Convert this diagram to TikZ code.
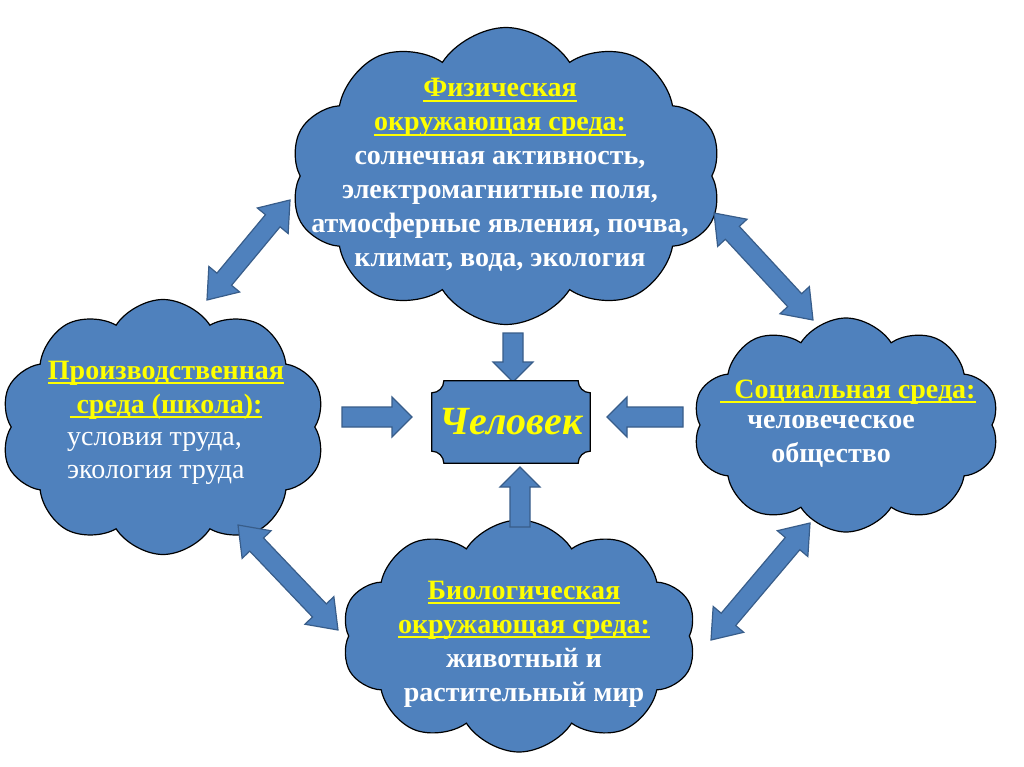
\documentclass[tikz,border=0pt]{standalone}
\usepackage{fontspec}
\setmainfont{Liberation Serif}
\usetikzlibrary{shapes.symbols,calc}
\definecolor{cblue}{HTML}{4F81BD}
\definecolor{cedge}{HTML}{385D8A}
\definecolor{cyel}{HTML}{FFFF00}
\newsavebox\myulbox
\newcommand\myul[1]{{\color{cyel}\sbox\myulbox{#1}\rlap{\rule[-5pt]{\wd\myulbox}{2pt}}\usebox\myulbox}}
\newcommand\myoneway[2]{%
  \coordinate (#1-h) at ($(#2)!20pt!(#1)$);
  \draw[blockar] ($(#1)!10pt!90:(#2)$) -- ($(#1-h)!10pt!90:(#2)$) -- ($(#1-h)!20pt!90:(#2)$) -- (#2)
    -- ($(#1-h)!20pt!-90:(#2)$) -- ($(#1-h)!10pt!-90:(#2)$) -- ($(#1)!10pt!-90:(#2)$) -- cycle;}
\newcommand\mytwoway[2]{%
  \coordinate (#1-h) at ($(#1)!27pt!(#2)$);
  \coordinate (#2-h) at ($(#2)!27pt!(#1)$);
  \draw[blockar] (#1) -- ($(#1-h)!20pt!90:(#2)$) -- ($(#1-h)!9.5pt!90:(#2)$) -- ($(#2-h)!9.5pt!-90:(#1)$)
    -- ($(#2-h)!20pt!-90:(#1)$) -- (#2) -- ($(#2-h)!20pt!90:(#1)$) -- ($(#2-h)!9.5pt!90:(#1)$)
    -- ($(#1-h)!9.5pt!-90:(#2)$) -- ($(#1-h)!20pt!-90:(#2)$) -- cycle;}
\tikzset{
  cloudbox/.style={cloud, cloud puffs=10, cloud puff arc=115, draw=black, line width=1.2pt, fill=cblue, inner sep=0pt},
  blockar/.style={fill=cblue, draw=cedge, line width=1.2pt, line join=miter},
  ctext/.style={text=white, font=\fontsize{28}{34}\selectfont\bfseries, align=center, inner sep=0pt},
  ltext/.style={text=white, font=\fontsize{28}{33}\selectfont, align=left, inner sep=0pt},
}
\begin{document}
\begin{tikzpicture}[x=1pt,y=-1pt]
\fill[white] (0,0) rectangle (1024,767);
\useasboundingbox (0,0) rectangle (1024,767);
% clouds
\node[cloudbox, minimum width=432pt, minimum height=297pt] (phys) at (506,176) {};
\node[cloudbox, minimum width=325pt, minimum height=255pt] (prod) at (163,427) {};
\node[cloudbox, minimum width=307pt, minimum height=214pt] (soc) at (846,425) {};
\node[cloudbox, minimum width=355pt, minimum height=232pt] (bio) at (519,636) {};
% arrow end points
\coordinate (dT) at (513,333); \coordinate (dH) at (513,382);
\coordinate (rT) at (342,417); \coordinate (rH) at (412,417);
\coordinate (lT) at (683,417); \coordinate (lH) at (607,417);
\coordinate (uT) at (520,527); \coordinate (uH) at (520,467);
\coordinate (tlA) at (207,300); \coordinate (tlB) at (290,200);
\coordinate (trA) at (714,213); \coordinate (trB) at (813,320);
\coordinate (blA) at (238,525); \coordinate (blB) at (338,630);
\coordinate (brA) at (810,523); \coordinate (brB) at (711,640);
\myoneway{dT}{dH}
\myoneway{rT}{rH}
\myoneway{lT}{lH}
\myoneway{uT}{uH}
\mytwoway{tlA}{tlB}
\mytwoway{trA}{trB}
\mytwoway{blA}{blB}
\mytwoway{brA}{brB}
% central plaque
\node[minimum width=158pt, minimum height=82pt, inner sep=0pt] (man) at (511,422) {};
\path[fill=cblue, draw=black, line width=1.2pt]
  ($(man.north west)+(12,0)$) -- ($(man.north east)+(-12,0)$)
  .. controls ($(man.north east)+(-12,6.6)$) and ($(man.north east)+(-6.6,12)$) .. ($(man.north east)+(0,12)$)
  -- ($(man.south east)+(0,-12)$)
  .. controls ($(man.south east)+(-6.6,-12)$) and ($(man.south east)+(-12,-6.6)$) .. ($(man.south east)+(-12,0)$)
  -- ($(man.south west)+(12,0)$)
  .. controls ($(man.south west)+(12,-6.6)$) and ($(man.south west)+(6.6,-12)$) .. ($(man.south west)+(0,-12)$)
  -- ($(man.north west)+(0,12)$)
  .. controls ($(man.north west)+(6.6,12)$) and ($(man.north west)+(12,6.6)$) .. ($(man.north west)+(12,0)$) -- cycle;
\node[text=cyel, font=\fontsize{40}{44}\selectfont\bfseries\itshape, inner sep=0pt] (mantxt) at (man.center) {Человек};
% texts
\node[ctext] (physt) at (500,175) {\myul{Физическая}\\
  \myul{окружающая среда:}\\
  солнечная активность,\\ электромагнитные поля,\\ атмосферные явления, почва,\\ климат, вода, экология};
\node[ctext] (prodt) at (166,390) {\myul{Производственная}\\
  \myul{\hspace*{7pt}среда (школа):}};
\node[ltext, anchor=west] (prodb) at (67,458) {условия труда,\\ экология труда};
\node[ctext] (soct) at (848,392) {\myul{\hspace*{14pt}Социальная среда:}};
\node[ctext] (socb) at (831,441) {человеческое\\ общество};
\node[ctext] (biot) at (524,644) {\myul{Биологическая}\\
  \myul{окружающая среда:}\\
  животный и\\ растительный мир};
\end{tikzpicture}
\end{document}
